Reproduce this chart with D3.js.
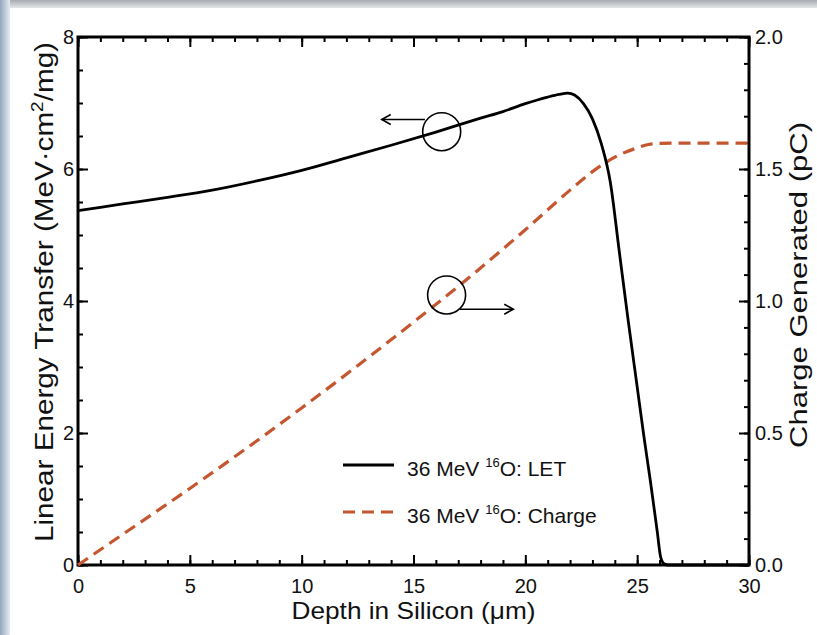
<!DOCTYPE html>
<html>
<head>
<meta charset="utf-8">
<script src="https://cdn.jsdelivr.net/npm/d3@7"></script>
<style>
  html, body { margin: 0; padding: 0; background: #fff; }
  text { font-family: "Liberation Sans", Arial, sans-serif; fill: #111; }
</style>
</head>
<body>
<script>
// LET curve, depth in um -> MeV.cm2/mg
const letDepth = [0, 2, 4, 6, 8, 10, 12, 14, 16, 18, 19, 20, 21, 21.5, 21.9, 22.2, 22.6, 23.0, 23.4, 23.8, 24.2, 24.6, 25.0, 25.3, 25.6, 25.9, 26.05, 26.2, 26.4, 30];
const letValues = [5.37, 5.47, 5.57, 5.68, 5.82, 5.98, 6.17, 6.36, 6.56, 6.77, 6.87, 6.99, 7.09, 7.13, 7.15, 7.12, 6.99, 6.76, 6.38, 5.8, 4.75, 3.7, 2.7, 1.95, 1.25, 0.5, 0.12, 0.02, 0, 0];

// charge generated, depth in um -> pC
const chargeDepth = [0, 2.5, 5, 7.5, 10, 12.5, 15, 17.5, 20, 22, 23, 24, 25, 25.5, 26, 27, 30];
const chargeValues = [0, 0.145, 0.29, 0.44, 0.595, 0.755, 0.92, 1.09, 1.27, 1.42, 1.49, 1.545, 1.58, 1.593, 1.597, 1.598, 1.598];

const xTicks = [0, 5, 10, 15, 20, 25, 30];
const yLeftTicks = [0, 2, 4, 6, 8];
const yRightTicks = [0, 0.5, 1.0, 1.5, 2.0];

const legendLabels = ["36 MeV ", "16", "O: "];
const legendNames = ["LET", "Charge"];

const width = 817, height = 635;
const margin = {top: 37, right: 68, bottom: 70, left: 78};
const iw = width - margin.left - margin.right,
    ih = height - margin.top - margin.bottom;

const svg = d3.select('body').append('svg')
    .attr('width', width)
    .attr('height', height);

// frame shading like the source screenshot
const defs = svg.append('defs');
const gTop = defs.append('linearGradient').attr('id', 'gtop')
    .attr('x1', 0).attr('y1', 0).attr('x2', 0).attr('y2', 1);
gTop.append('stop').attr('offset', '0%').attr('stop-color', '#a7abb1');
gTop.append('stop').attr('offset', '100%').attr('stop-color', '#e4e6e9');
const gLeft = defs.append('linearGradient').attr('id', 'gleft')
    .attr('x1', 0).attr('y1', 0).attr('x2', 1).attr('y2', 0);
gLeft.append('stop').attr('offset', '0%').attr('stop-color', '#93a7bf');
gLeft.append('stop').attr('offset', '100%').attr('stop-color', '#e6ecf2');

svg.append('rect').attr('width', width).attr('height', height).attr('fill', '#fff');
svg.append('rect').attr('x', 0).attr('y', 0).attr('width', width).attr('height', 8).attr('fill', 'url(#gtop)');
svg.append('rect').attr('x', 0).attr('y', 0).attr('width', 10).attr('height', height).attr('fill', 'url(#gleft)');

const g = svg.append('g')
    .attr('transform', 'translate(' + margin.left + ',' + margin.top + ')');

const x = d3.scaleLinear().domain([0, 30]).range([0, iw]);
const yL = d3.scaleLinear().domain([0, 8]).range([ih, 0]);
const yR = d3.scaleLinear().domain([0, 2]).range([ih, 0]);

function styleAxis(sel, fontSize) {
    sel.select('.domain').remove();
    sel.selectAll('.tick line').attr('stroke', '#000').attr('stroke-width', 2);
    sel.selectAll('.tick text').attr('font-size', fontSize).attr('fill', '#111')
        .attr('font-family', '"Liberation Sans", Arial, sans-serif');
}

// minor ticks
g.append('g').attr('transform', 'translate(0,' + ih + ')')
    .call(d3.axisBottom(x).ticks(30).tickSize(-5).tickFormat(''))
    .call(styleAxis, 20);
g.append('g')
    .call(d3.axisTop(x).ticks(30).tickSize(-5).tickFormat(''))
    .call(styleAxis, 20);
g.append('g')
    .call(d3.axisLeft(yL).tickValues(d3.range(0, 8.01, 0.5)).tickSize(-5).tickFormat(''))
    .call(styleAxis, 20);
g.append('g').attr('transform', 'translate(' + iw + ',0)')
    .call(d3.axisRight(yR).tickValues(d3.range(0, 2.001, 0.1)).tickSize(-5).tickFormat(''))
    .call(styleAxis, 20);

// major ticks + labels
g.append('g').attr('transform', 'translate(0,' + ih + ')')
    .call(d3.axisBottom(x).tickValues(xTicks).tickSize(-10).tickPadding(14).tickFormat(d3.format('d')))
    .call(styleAxis, 20);
g.append('g')
    .call(d3.axisTop(x).tickValues(xTicks).tickSize(-10).tickFormat(''))
    .call(styleAxis, 20);
g.append('g')
    .call(d3.axisLeft(yL).tickValues(yLeftTicks).tickSize(-10).tickPadding(4).tickFormat(d3.format('d')))
    .call(styleAxis, 20);
g.append('g').attr('transform', 'translate(' + iw + ',0)')
    .call(d3.axisRight(yR).tickValues(yRightTicks).tickSize(-10).tickPadding(6).tickFormat(d3.format('.1f')))
    .call(styleAxis, 20);

// frame
g.append('rect').attr('width', iw).attr('height', ih)
    .attr('fill', 'none').attr('stroke', '#000').attr('stroke-width', 3);

// curves
const letLine = d3.line()
    .x((d, i) => x(letDepth[i]))
    .y(d => yL(d))
    .curve(d3.curveMonotoneX);
const chargeLine = d3.line()
    .x((d, i) => x(chargeDepth[i]))
    .y(d => yR(d))
    .curve(d3.curveMonotoneX);

g.append('path').datum(chargeValues)
    .attr('d', chargeLine)
    .attr('fill', 'none')
    .attr('stroke', '#c4572f')
    .attr('stroke-width', 3.2)
    .attr('stroke-dasharray', '12,7');

g.append('path').datum(letValues)
    .attr('d', letLine)
    .attr('fill', 'none')
    .attr('stroke', '#000')
    .attr('stroke-width', 2.8)
    .attr('stroke-linejoin', 'round');

// annotation circles with arrows (data units)
const notes = [
    {cx: 16.26, cy: 6.565, axis: 'L', x0: 15.51, x1: 13.58, ya: 6.75},
    {cx: 16.48, cy: 1.023, axis: 'R', x0: 17.08, x1: 19.46, ya: 0.969}
];
notes.forEach(n => {
    const ys = n.axis === 'L' ? yL : yR;
    g.append('circle')
        .attr('cx', x(n.cx)).attr('cy', ys(n.cy)).attr('r', 19)
        .attr('fill', 'none').attr('stroke', '#000').attr('stroke-width', 1.6);
    const ax0 = x(n.x0), ax1 = x(n.x1), ay = ys(n.ya);
    const dir = ax1 < ax0 ? 1 : -1;
    g.append('line')
        .attr('x1', ax0).attr('y1', ay).attr('x2', ax1).attr('y2', ay)
        .attr('stroke', '#000').attr('stroke-width', 1.6);
    g.append('path')
        .attr('d', 'M' + (ax1 + dir * 9) + ',' + (ay - 5) + 'L' + ax1 + ',' + ay + 'L' + (ax1 + dir * 9) + ',' + (ay + 5))
        .attr('fill', 'none').attr('stroke', '#000').attr('stroke-width', 1.6);
});

// legend
const legend = svg.append('g');
const legendY = [465, 512];
legendNames.forEach((name, i) => {
    legend.append('line')
        .attr('x1', 343).attr('x2', 394)
        .attr('y1', legendY[i]).attr('y2', legendY[i])
        .attr('stroke', i === 0 ? '#000' : '#c4572f')
        .attr('stroke-width', i === 0 ? 2.8 : 3.2)
        .attr('stroke-dasharray', i === 0 ? null : '12,7');
    const t = legend.append('text')
        .attr('x', 407).attr('y', legendY[i] + 11)
        .attr('font-size', 21);
    t.append('tspan').text(legendLabels[0]);
    t.append('tspan').attr('font-size', 13).attr('dy', -9).text(legendLabels[1]);
    t.append('tspan').attr('dy', 9).text(legendLabels[2] + name);
});

// axis titles
svg.append('text')
    .attr('x', margin.left + iw / 2).attr('y', 619)
    .attr('text-anchor', 'middle')
    .attr('font-size', 24)
    .attr('textLength', 244).attr('lengthAdjust', 'spacingAndGlyphs')
    .text('Depth in Silicon (\u03bcm)');

const lt = svg.append('text')
    .attr('transform', 'translate(53,292) rotate(-90)')
    .attr('text-anchor', 'middle')
    .attr('font-size', 25)
    .attr('textLength', 500).attr('lengthAdjust', 'spacingAndGlyphs');
lt.append('tspan').text('Linear Energy Transfer (MeV\u00b7cm');
lt.append('tspan').attr('font-size', 16).attr('dy', -10).text('2');
lt.append('tspan').attr('dy', 10).text('/mg)');

svg.append('text')
    .attr('transform', 'translate(807,285) rotate(-90)')
    .attr('text-anchor', 'middle')
    .attr('font-size', 23)
    .attr('textLength', 326).attr('lengthAdjust', 'spacingAndGlyphs')
    .text('Charge Generated (pC)');
</script>
</body>
</html>
